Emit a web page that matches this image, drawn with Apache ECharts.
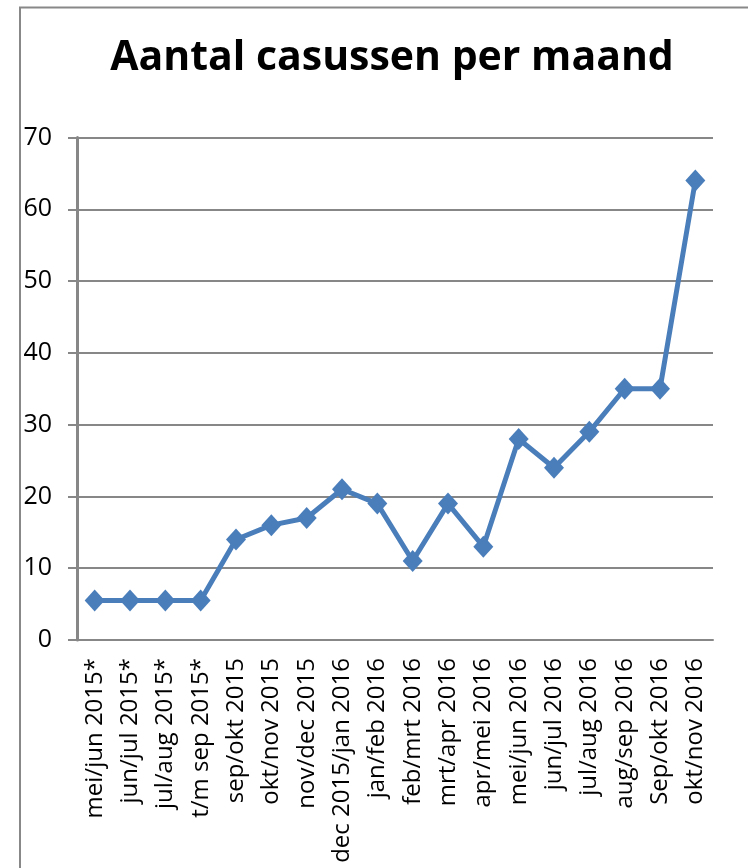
<!DOCTYPE html>
<html><head><meta charset="utf-8">
<script src="https://cdn.jsdelivr.net/npm/echarts@6/dist/echarts.min.js"></script>
<style>html,body{margin:0;padding:0;background:#fff}#c{width:748px;height:868px}</style>
</head><body><div id="c"></div>
<script>
const titleText = "Aantal casussen per maand";
const categories = ["mei/jun 2015*","jun/jul 2015*","jul/aug 2015*","t/m sep 2015*","sep/okt 2015","okt/nov 2015","nov/dec 2015","dec 2015/jan 2016","jan/feb 2016","feb/mrt 2016","mrt/apr 2016","apr/mei 2016","mei/jun 2016","jun/jul 2016","jul/aug 2016","aug/sep 2016","Sep/okt 2016","okt/nov 2016"];
const values = [5.5,5.5,5.5,5.5,14,16,17,21,19,11,19,13,28,24,29,35,35,64];
const yTicks = {min:0, max:70, interval:10};
const font = "'Open Sans', 'Liberation Sans', sans-serif";
const chart = echarts.init(document.getElementById('c'), null, {renderer:'canvas'});
chart.setOption({
  animation:false,
  title:{text:titleText, left:387, top:33, textAlign:'center',
    textStyle:{fontFamily:font, fontSize:41, fontWeight:'bold', color:'#000'}},
  graphic:[{type:'rect', shape:{x:20,y:7.5,width:800,height:900},
    style:{fill:'none', stroke:'#888', lineWidth:2}, silent:true}],
  grid:{left:77, right:35, top:137.5, bottom:228, containLabel:false},
  xAxis:{type:'category', data:categories, boundaryGap:true,
    axisLine:{lineStyle:{color:'#878787', width:2}},
    axisTick:{show:false},
    axisLabel:{rotate:90, interval:0, margin:18, color:'#000', fontSize:24, fontFamily:font}},
  yAxis:{type:'value', min:yTicks.min, max:yTicks.max, interval:yTicks.interval,
    axisLine:{show:true, lineStyle:{color:'#878787', width:3}},
    axisTick:{show:true, length:9, inside:false, lineStyle:{color:'#878787', width:2}},
    splitLine:{lineStyle:{color:'#878787', width:2}},
    axisLabel:{color:'#000', fontSize:25, fontFamily:font, margin:25}},
  series:[{type:'line', data:values, symbol:'diamond', symbolSize:[20,22],
    lineStyle:{color:'#4a7ebb', width:5}, itemStyle:{color:'#4a7ebb'}}]
});
</script></body></html>
